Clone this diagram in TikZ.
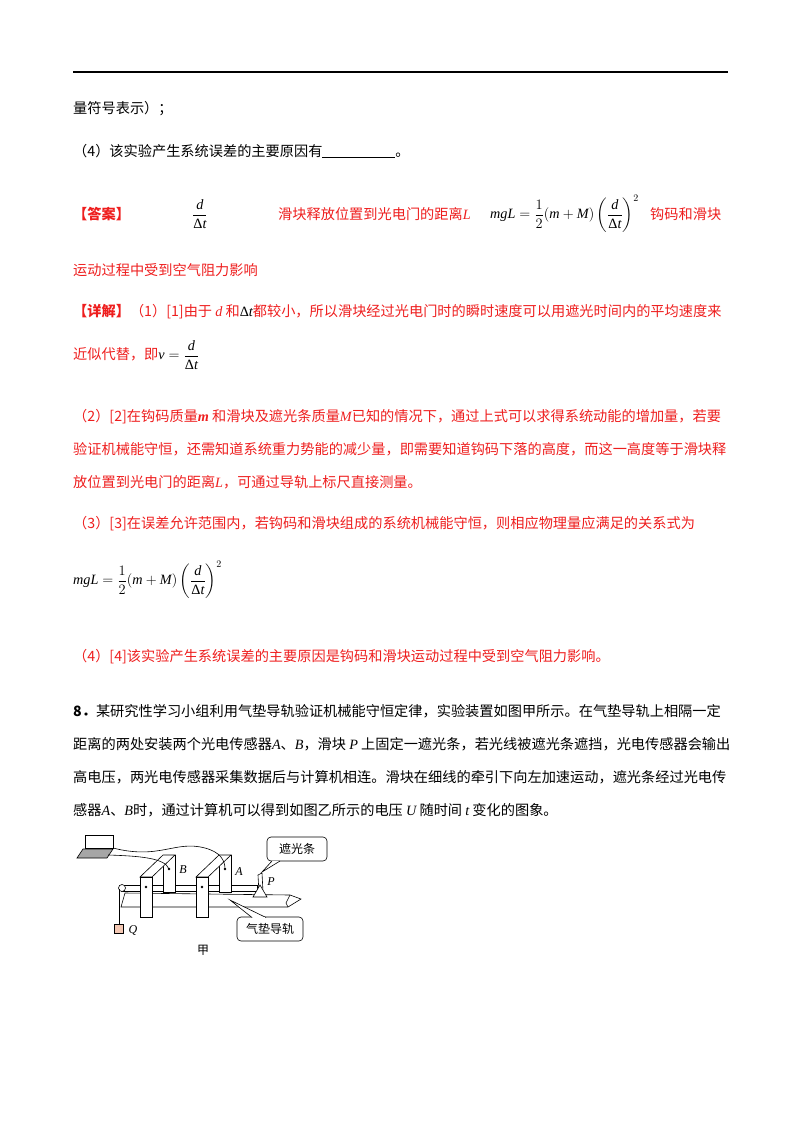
\documentclass[tikz,border=0pt]{standalone}
\usepackage{amsmath}
\usepackage{fontspec}
\setmainfont{Noto Sans CJK SC}
\newfontfamily\tnr{Liberation Serif}
\definecolor{myred}{RGB}{238,30,30}
\newcommand{\mi}[1]{\text{\tnr\itshape #1}}
\newcommand{\dlt}{\text{\tnr Δ}}
\begin{document}
\begin{tikzpicture}[x=1pt,y=-1pt,
  txt/.style={anchor=west,inner sep=0pt,font=\fontsize{14.2}{16}\selectfont},
  rtxt/.style={txt,text=myred},
  dev/.style={draw,line width=0.6pt,fill=white},
  lbl/.style={inner sep=0pt,font=\fontsize{12}{14}\selectfont}]
\useasboundingbox (0,0) rectangle (800,1132);
\draw[line width=1.2pt] (73,72) -- (728,72);
\node[txt] (l1) at (73,109) {量符号表示）；};
\node[txt] (l2) at (73,151) {（4）该实验产生系统误差的主要原因有\rule[-2pt]{73pt}{0.6pt}。};
\node[rtxt,font=\fontsize{14.2}{16}\bfseries] (ans) at (73,214) {【答案】};
\node[txt] (a1) at (192,214) {$\dfrac{\mi{d}}{\dlt\mi{t}}$};
\node[rtxt] (a2) at (278,214) {滑块释放位置到光电门的距离\mi{L}};
\node[txt] (a3) at (490,214) {$\mi{mgL}=\dfrac{1}{2}(\mi{m}+\mi{M})\left(\dfrac{\mi{d}}{\dlt\mi{t}}\right)^{2}$};
\node[rtxt] (a4) at (650,214) {钩码和滑块};
\node[rtxt] (a5) at (73,270) {运动过程中受到空气阻力影响};
\node[rtxt] (d1) at (73,312) {\textbf{【详解】}（1）[1]由于 \mi{d} 和{\color{black}$\dlt\mi{t}$}都较小，所以滑块经过光电门时的瞬时速度可以用遮光时间内的平均速度来};
\node[rtxt] (d2) at (73,355) {近似代替，即{\color{black}$\mi{v}=\dfrac{\mi{d}}{\dlt\mi{t}}$}};
\node[rtxt] (d3) at (73,417) {（2）[2]在钩码质量\mi{\bfseries m} 和滑块及遮光条质量\mi{M}已知的情况下，通过上式可以求得系统动能的增加量，若要};
\node[rtxt] (d4) at (73,449) {验证机械能守恒，还需知道系统重力势能的减少量，即需要知道钩码下落的高度，而这一高度等于滑块释};
\node[rtxt] (d5) at (73,482) {放位置到光电门的距离\mi{L}，可通过导轨上标尺直接测量。};
\node[rtxt] (d6) at (73,524) {（3）[3]在误差允许范围内，若钩码和滑块组成的系统机械能守恒，则相应物理量应满足的关系式为};
\node[txt] (d7) at (73,580) {$\mi{mgL}=\dfrac{1}{2}(\mi{m}+\mi{M})\left(\dfrac{\mi{d}}{\dlt\mi{t}}\right)^{2}$};
\node[rtxt] (d8) at (73,657) {（4）[4]该实验产生系统误差的主要原因是钩码和滑块运动过程中受到空气阻力影响。};
\node[txt] (q1) at (73,711) {\textbf{8．}某研究性学习小组利用气垫导轨验证机械能守恒定律，实验装置如图甲所示。在气垫导轨上相隔一定};
\node[txt] (q2) at (73,744) {距离的两处安装两个光电传感器\mi{A}、\mi{B}，滑块 \mi{P} 上固定一遮光条，若光线被遮光条遮挡，光电传感器会输出};
\node[txt] (q3) at (73,777) {高电压，两光电传感器采集数据后与计算机相连。滑块在细线的牵引下向左加速运动，遮光条经过光电传};
\node[txt] (q4) at (73,810) {感器\mi{A}、\mi{B}时，通过计算机可以得到如图乙所示的电压 \mi{U} 随时间 \mi{t} 变化的图象。};
% ---------- diagram ----------
\draw[line width=0.6pt,fill=white] (85,835) rectangle (113,848);
\draw[line width=0.6pt,fill=gray!70] (83,849) -- (113,849) -- (107,858) -- (77,858) -- cycle;
\draw[line width=0.6pt,fill=white] (125,893) -- (290,895) -- (301,899) -- (288,907) -- (121,907) -- cycle;
\draw[line width=0.6pt] (290,895) -- (286,903) -- (288,907);
\draw[line width=0.6pt,fill=white] (121,885) rectangle (257,891);
\node[draw,circle,line width=0.6pt,fill=white,minimum size=7pt,inner sep=0pt] (pul) at (122,888) {};
\coordinate (qtop) at (119,924);
\draw[line width=0.6pt] (119,889) -- (qtop);
\node[draw,line width=0.6pt,fill={rgb,255:red,244;green,200;blue,180},minimum size=9pt,inner sep=0pt,anchor=north] (Q) at (qtop) {};
\node[lbl] (Ql) at (133,930) {\mi{Q}};
\foreach \dx in {0,56}{
  \draw[dev] (163+\dx,855) -- (175+\dx,855) -- (175+\dx,892) -- (163+\dx,892) -- cycle;
  \draw[dev] (140+\dx,877) -- (163+\dx,855) -- (175+\dx,855) -- (152+\dx,877) -- cycle;
  \draw[dev] (140+\dx,877) rectangle (152+\dx,917);
  \fill (146+\dx,887) circle (1.3pt);
  \fill (169+\dx,869) circle (1.3pt);
}
\coordinate (Bd) at (169,869);
\coordinate (Ad) at (225,869);
\node[lbl] (Bl) at (183,870) {\mi{B}};
\node[lbl] (Al) at (239,872) {\mi{A}};
\coordinate (lapA) at (113,848);
\coordinate (lapB) at (108,855);
\draw[line width=0.6pt] (lapA) .. controls (160,860) and (175,840) .. (205,848) .. controls (220,852) and (225,860) .. (Ad);
\draw[line width=0.6pt] (lapB) .. controls (140,856) and (165,858) .. (Bd);
\draw[line width=0.6pt,fill=white] (258,875) -- (262,873) -- (263,892) -- (259,893) -- cycle;
\draw[line width=0.6pt,fill=white] (253,897) -- (260,885) -- (267,897) -- cycle;
\node[lbl] (Pl) at (271,882) {\mi{P}};
\node[draw,rounded corners=4pt,line width=0.6pt,lbl,minimum width=60pt,minimum height=24pt] (c1) at (297,849) {遮光条};
\draw[line width=0.6pt,fill=white] (272,861) -- (262,872) -- (280,861);
\node[draw,rounded corners=4pt,line width=0.6pt,lbl,minimum width=66pt,minimum height=24pt,fill=white] (c2) at (270,929) {气垫导轨};
\draw[line width=0.6pt,fill=white] (252,917.5) -- (230,900) -- (266,917.5);
\draw[white,line width=1pt] (253,917.3) -- (265,917.3);
\node[lbl] (jia) at (203,950) {甲};
\end{tikzpicture}
\end{document}
